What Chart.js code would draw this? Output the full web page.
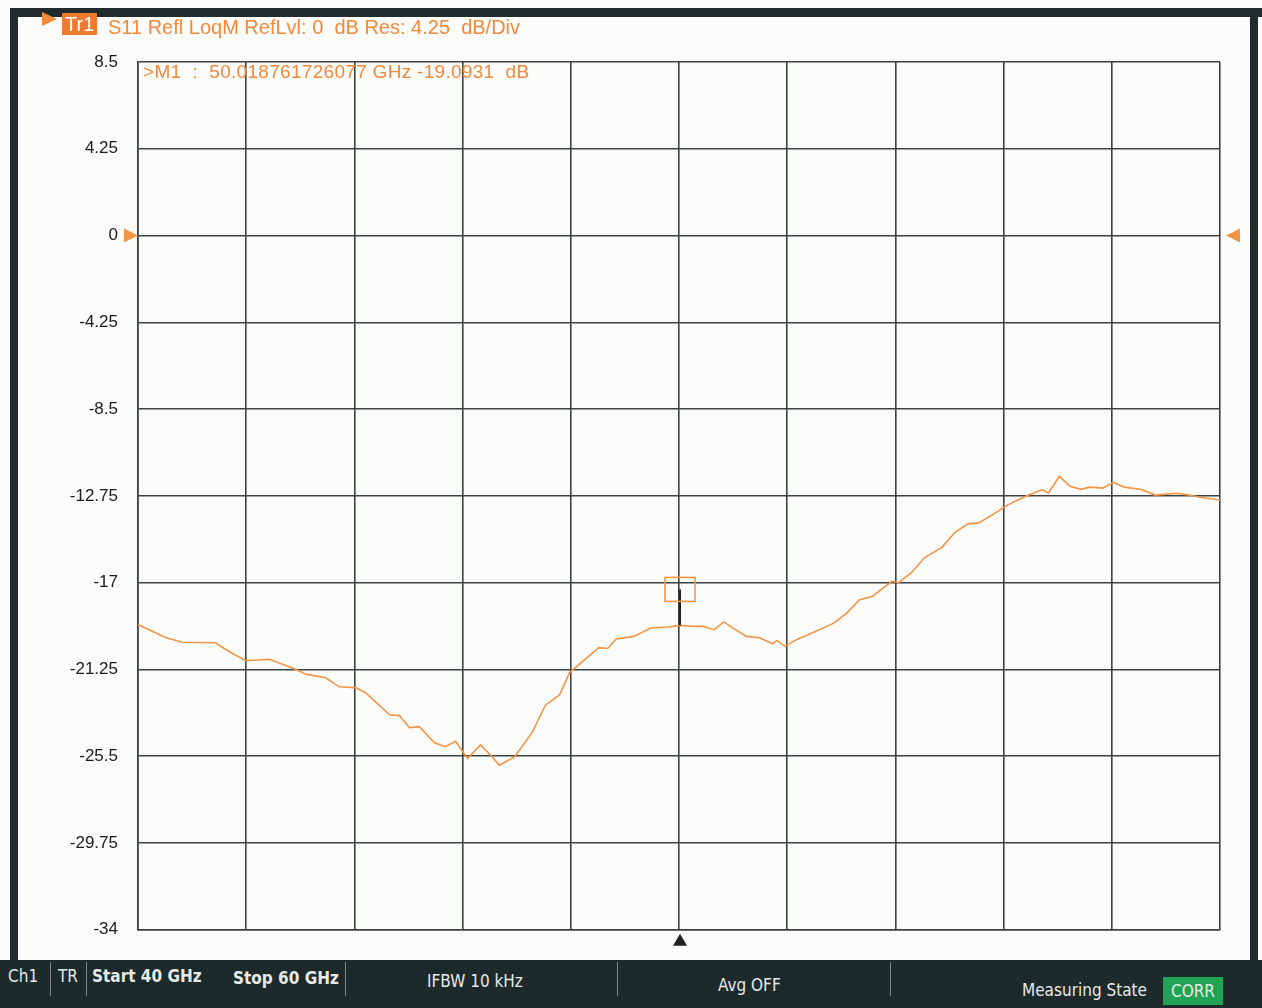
<!DOCTYPE html>
<html>
<head>
<meta charset="utf-8">
<script src="https://cdn.jsdelivr.net/npm/chart.js@4"></script>
<style>
  body { margin: 0; background: #fbfbfa; }
  #wrap { position: relative; width: 1262px; height: 1008px; overflow: hidden; font-family: "Liberation Sans", Arial, sans-serif; }
  #c { position: absolute; left: 0; top: 0; }
  .bar { position: absolute; background: #1f2b2c; }
  #hdr { position: absolute; left: 42px; top: 10px; height: 28px; color: #f2893a; font-size: 21px; white-space: nowrap; }
  #hdr .arr { position: absolute; left: 0; top: 2px; width: 0; height: 0; border-top: 7px solid transparent; border-bottom: 7px solid transparent; border-left: 15px solid #f2893a; }
  #hdr .tr { position: absolute; left: 20px; top: 3px; background: #f07a30; color: #fff; padding: 0 3px; line-height: 22px; font-size: 20px; }
  #hdr .txt { position: absolute; left: 66px; top: 6px; letter-spacing: 0px; font-size: 20px; white-space: pre; }
  #mk { position: absolute; left: 143px; top: 61px; color: #f2893a; font-size: 19px; letter-spacing: 0.3px; white-space: pre; }
  #status { position: absolute; left: 0; top: 960px; width: 1262px; height: 48px; background: #1c2a2b; color: #e6e9e8; font-family: "DejaVu Sans Condensed", "DejaVu Sans", sans-serif; font-size: 17px; }
  #status span { position: absolute; top: 3px; line-height: 26px; white-space: nowrap; }
  #status .sep { position: absolute; top: 2px; width: 1px; height: 34px; background: #7c8786; }
  #status .corr { background: #20a454; padding: 0 8px; top: 17px; line-height: 28px; }
</style>
</head>
<body>
<div id="wrap">
  <canvas id="c" width="1262" height="960"></canvas>
  <div class="bar" style="left:10px;top:8px;width:1252px;height:9px;"></div>
  <div class="bar" style="left:10px;top:8px;width:8px;height:955px;"></div>
  <div class="bar" style="left:1250px;top:14px;width:8px;height:950px;"></div>
  <div id="hdr"><div class="arr"></div><div class="tr">Tr1</div><div class="txt">S11 Refl LoqM RefLvl: 0  dB Res: 4.25  dB/Div</div></div>
  <div id="mk">&gt;M1  :  50.018761726077 GHz -19.0931  dB</div>
  <div id="status">
    <span style="left:8px;">Ch1</span><div class="sep" style="left:50px;"></div>
    <span style="left:58px;">TR</span><div class="sep" style="left:86px;"></div>
    <span style="left:92px;font-weight:bold;">Start 40 GHz</span>
    <span style="left:233px;font-weight:bold;top:5px;">Stop 60 GHz</span><div class="sep" style="left:345px;"></div>
    <span style="left:427px;top:8px;">IFBW 10 kHz</span><div class="sep" style="left:617px;"></div>
    <span style="left:718px;top:12px;">Avg OFF</span><div class="sep" style="left:890px;"></div>
    <span style="left:1022px;top:17px;">Measuring State</span>
    <span class="corr" style="left:1163px;">CORR</span>
  </div>
</div>
<script>
const freqGHz = [40.0, 40.51, 40.82, 41.43, 41.69, 41.99, 42.43, 42.91, 43.10, 43.47,
  43.72, 44.02, 44.20, 44.65, 44.83, 45.02, 45.20, 45.48, 45.68, 45.87,
  46.09, 46.33, 46.52, 46.68, 46.96, 47.29, 47.53, 47.79, 47.98, 48.28,
  48.52, 48.68, 48.84, 49.16, 49.48, 49.81, 50.02, 50.21, 50.45, 50.65,
  50.83, 51.01, 51.25, 51.49, 51.73, 51.81, 51.96, 52.17, 52.45, 52.86,
  53.10, 53.34, 53.58, 53.82, 53.94, 54.06, 54.30, 54.54, 54.86, 55.10,
  55.34, 55.54, 55.83, 56.07, 56.43, 56.71, 56.83, 57.03, 57.23, 57.43,
  57.59, 57.83, 58.03, 58.23, 58.55, 58.80, 59.20, 59.44, 59.60, 60.0];
const s11dB = [-19.05, -19.68, -19.92, -19.94, -20.38, -20.82, -20.75, -21.24, -21.48, -21.66,
  -22.10, -22.14, -22.38, -23.47, -23.51, -24.10, -24.05, -24.84, -25.03, -24.77,
  -25.61, -24.95, -25.45, -25.94, -25.53, -24.32, -23.00, -22.50, -21.39, -20.72,
  -20.18, -20.22, -19.76, -19.63, -19.22, -19.17, -19.09, -19.13, -19.14, -19.30,
  -18.92, -19.25, -19.63, -19.70, -19.99, -19.83, -20.12, -19.79, -19.48, -18.98,
  -18.49, -17.83, -17.66, -17.17, -16.93, -17.00, -16.50, -15.77, -15.27, -14.53,
  -14.12, -14.07, -13.62, -13.20, -12.74, -12.45, -12.61, -11.79, -12.28, -12.43,
  -12.32, -12.37, -12.09, -12.32, -12.44, -12.71, -12.62, -12.71, -12.80, -12.95];
const yTicks = [8.5, 4.25, 0, -4.25, -8.5, -12.75, -17, -21.25, -25.5, -29.75, -34];
const xTicks = [40, 42, 44, 46, 48, 50, 52, 54, 56, 58, 60];
const refLevel = 0;
const markerFreq = 50.018761726077;
const markerVal = -19.0931;

const orange = '#f39446';
const gridCol = '#3b4244';

// marker box, reference triangles, stimulus marker
const markerPlugin = {
  id: 'marker',
  afterDatasetsDraw(chart) {
    const { ctx, chartArea: a, scales: { x, y } } = chart;
    ctx.save();
    const ry = y.getPixelForValue(refLevel);
    ctx.fillStyle = orange;
    ctx.beginPath(); ctx.moveTo(a.left - 14, ry - 7); ctx.lineTo(a.left, ry); ctx.lineTo(a.left - 14, ry + 7); ctx.fill();
    ctx.beginPath(); ctx.moveTo(a.right + 20, ry - 7); ctx.lineTo(a.right + 6, ry); ctx.lineTo(a.right + 20, ry + 7); ctx.fill();

    const mx = x.getPixelForValue(markerFreq);
    const my = y.getPixelForValue(markerVal);
    ctx.strokeStyle = '#222';
    ctx.lineWidth = 2;
    ctx.beginPath(); ctx.moveTo(mx, my); ctx.lineTo(mx, my - 36); ctx.stroke();
    ctx.strokeStyle = orange;
    ctx.lineWidth = 1.6;
    ctx.strokeRect(mx - 15, my - 48, 30, 24);

    ctx.fillStyle = '#222';
    ctx.beginPath(); ctx.moveTo(mx, a.bottom + 4); ctx.lineTo(mx + 7, a.bottom + 16); ctx.lineTo(mx - 7, a.bottom + 16); ctx.fill();
    ctx.restore();
  }
};

new Chart(document.getElementById('c'), {
  type: 'line',
  data: {
    datasets: [{
      data: freqGHz.map((f, i) => ({ x: f, y: s11dB[i] })),
      borderColor: orange,
      borderWidth: 1.6,
      pointRadius: 0,
      tension: 0,
      fill: false
    }]
  },
  options: {
    responsive: false,
    animation: false,
    devicePixelRatio: 1,
    layout: { padding: { top: 62, right: 42, left: 0, bottom: 0 } },
    plugins: { legend: { display: false }, tooltip: { enabled: false } },
    scales: {
      x: {
        type: 'linear', min: 40, max: 60,
        afterBuildTicks: s => { s.ticks = xTicks.map(v => ({ value: v })); },
        afterFit: s => { s.height = 30; },
        ticks: { display: false },
        grid: { color: gridCol, lineWidth: 1.6, drawTicks: false },
        border: { color: gridCol, width: 1.6 }
      },
      y: {
        min: -34, max: 8.5,
        afterBuildTicks: s => { s.ticks = yTicks.map(v => ({ value: v })); },
        afterFit: s => { s.width = 138; },
        ticks: {
          padding: 20, color: '#1a1a1a',
          font: { family: 'Liberation Sans', size: 17 },
          callback: v => String(v)
        },
        grid: { color: gridCol, lineWidth: 1.6, drawTicks: false },
        border: { color: gridCol, width: 1.6 }
      }
    }
  },
  plugins: [markerPlugin]
});
</script>
</body>
</html>
